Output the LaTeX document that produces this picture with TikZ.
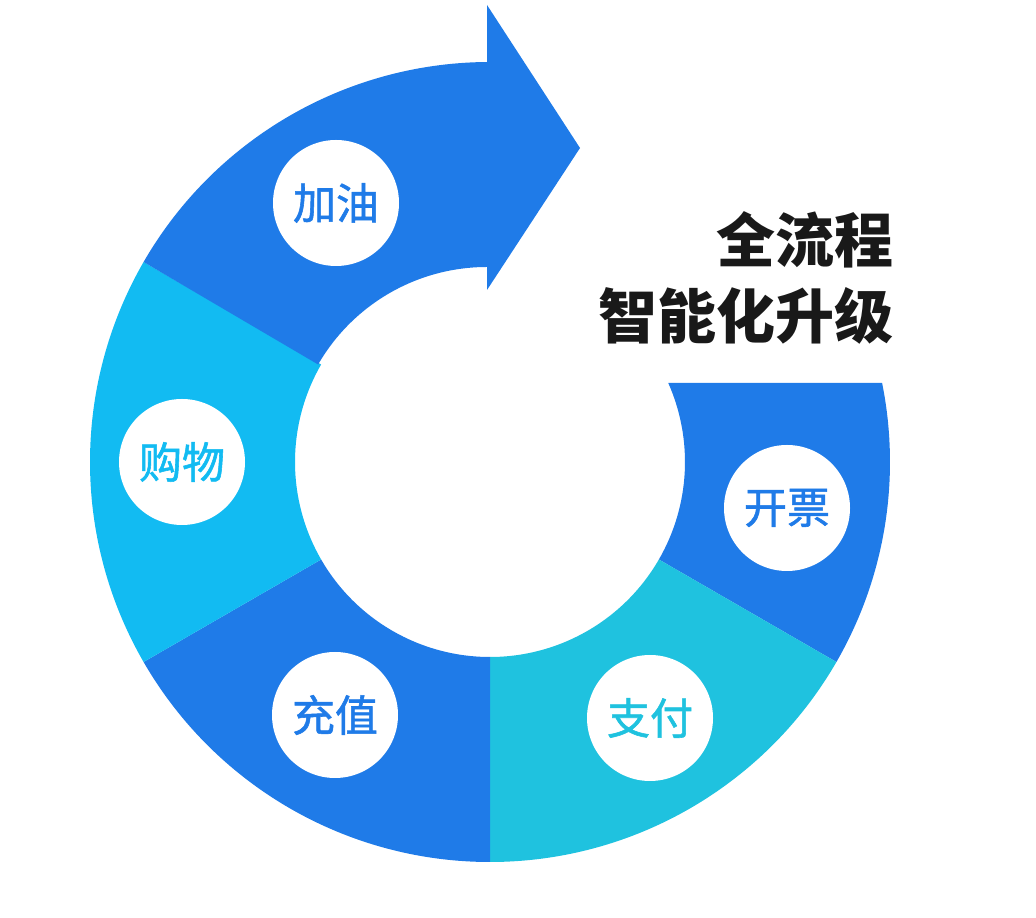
\documentclass[tikz,border=0pt]{standalone}
\usetikzlibrary{calc}
\usepackage{fontspec}
\setmainfont{Noto Sans CJK SC}
\newfontfamily\med[FakeBold=1.3]{Noto Sans CJK SC}
\definecolor{bl}{HTML}{1F7BE8}
\definecolor{cy}{HTML}{12BBF2}
\definecolor{tl}{HTML}{1FC2DF}
\begin{document}
\begin{tikzpicture}[x=1pt,y=1pt,
  lab/.style={circle,fill=white,minimum size=126pt,inner sep=0pt,font=\med\fontsize{43}{46}\selectfont}]
\useasboundingbox (0,0) rectangle (1036,918);
\coordinate (c) at (490,456);
% 开票
\fill[bl] ($(c)+(23.9:195)$) -- ($(c)+(11.4:400)$) arc[start angle=11.4,end angle=-30,radius=400] -- ($(c)+(-30:195)$) arc[start angle=-30,end angle=23.9,radius=195] -- cycle;
% 支付
\fill[tl] ($(c)+(-30:400)$) arc[start angle=-30,end angle=-90,radius=400] -- ($(c)+(-90:195)$) arc[start angle=-90,end angle=-30,radius=195] -- cycle;
% 充值
\fill[bl] ($(c)+(-90:400)$) arc[start angle=-90,end angle=-150,radius=400] -- ($(c)+(-150:195)$) arc[start angle=-150,end angle=-90,radius=195] -- cycle;
% 购物
\fill[cy] ($(c)+(150:400)$) arc[start angle=150,end angle=210,radius=400] -- ($(c)+(210:195)$) arc[start angle=210,end angle=150,radius=195] -- cycle;
% 加油 + arrow
\fill[bl] ($(c)+(150:400)$) arc[start angle=150,end angle=90,radius=400] -- (487,856) -- (487,913) -- (580,770) -- (487,628) -- (487,651) arc[start angle=90,end angle=150,radius=195] -- cycle;
\node[lab,text=bl] (a) at (336,715) {加油};
\node[lab,text=cy] (b) at (182,456) {购物};
\node[lab,text=bl] (d) at (335,203) {充值};
\node[lab,text=tl] (e) at (650,200) {支付};
\node[lab,text=bl] (f) at (787,410) {开票};
\node[anchor=east,align=right,font=\fontsize{59}{76}\selectfont\bfseries,text=black!90] (t) at (897,640) {全流程\\智能化升级};
\end{tikzpicture}
\end{document}
